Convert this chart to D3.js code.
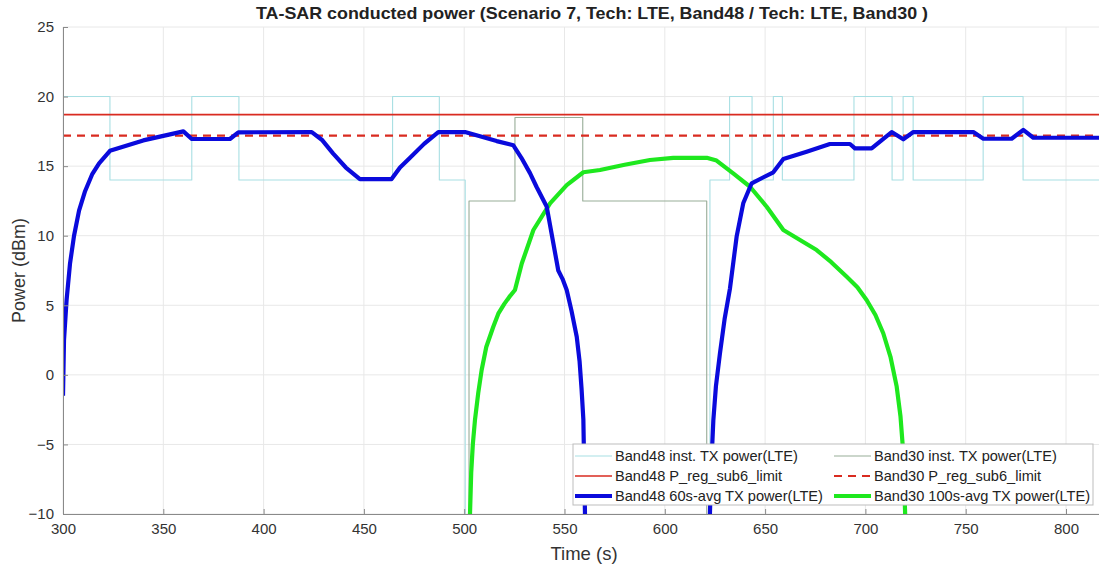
<!DOCTYPE html>
<html><head><meta charset="utf-8">
<script src="https://cdn.jsdelivr.net/npm/d3@7"></script>
<style>body{margin:0;background:#fff;font-family:"Liberation Sans",Arial,sans-serif;}</style>
</head><body><svg id="c" width="1099" height="567"></svg>
<script>
// ---------- data ----------
const titleText = "TA-SAR conducted power (Scenario 7, Tech: LTE, Band48 / Tech: LTE, Band30 )";
const xTicks = [300,350,400,450,500,550,600,650,700,750,800];
const yTicks = [-10,-5,0,5,10,15,20,25];
const OFF = -40; // transmitter off (-Inf dBm), drawn below the axis

// Band48 instantaneous TX power (step changes)
const b48InstT = [300,323.4,364.2,387.7,464.3,487.6,500.5,622.5,632.3,643.5,654.1,658.6,694.3,713.3,718.8,723.8,758.7,778.6,820];
const b48InstV = [20,14,20,14,20,14,OFF,14,20,14,20,14,20,14,20,14,20,14,14];
// Band30 instantaneous TX power (step changes)
const b30InstT = [300,502.4,525.3,559.1,620.9,820];
const b30InstV = [OFF,12.5,18.5,12.5,OFF,OFF];
// limits
const b48Limit = 18.7;
const b30Limit = 17.2;
// Band48 60s-avg TX power
const b48AvgT = [300,300.5,301.8,303.5,305.5,308,311,314.5,318,323.4,340,360,364.2,383.2,387.4,424,429,434.7,441,448,463.8,468,473,480,487.1,500.4,516.2,524.5,528.5,532.8,536.1,541.1,546.9,549,551.1,553.5,556.1,557.5,558.5,559.4,560.2,560.5,
  622.3,622.5,623.2,624.2,625.5,627.5,629.8,632.5,635.8,639.1,643.3,654.1,659.1,670.7,682.3,692.3,694.8,703.1,713.1,718.9,723.9,753.8,758.8,772.9,778.7,783.7,820];
const b48AvgV = [-1.5,2.5,5.4,8,10,11.8,13.2,14.4,15.2,16.1,16.85,17.5,16.95,16.95,17.43,17.45,16.9,15.9,14.9,14.07,14.07,14.9,15.6,16.6,17.45,17.45,16.8,16.5,15.6,14.5,13.5,12.1,7.5,6.9,6.1,4.6,2.74,1.0,-1,-3.2,-9.9,OFF,
  OFF,-9.95,-6.5,-3.25,-0.8,1.55,4.0,6.22,9.93,12.33,13.77,14.56,15.51,16.04,16.59,16.59,16.28,16.28,17.45,16.93,17.45,17.45,16.97,16.97,17.6,17.04,17.04];
// Band30 100s-avg TX power
const b30AvgT = [502.5,502.9,503.5,504.3,505.4,507,508.7,511,514.5,517,520,522.5,525.3,528.7,534.5,542.8,551.1,559.4,567.7,580,592.6,604.2,620.9,625.8,634.1,642.5,650.8,659.1,675.7,683,690.7,696,700.6,705,708.9,712.5,715.6,717.5,718.9,719.8,720];
const b30AvgV = [OFF,-9.95,-7,-5,-3.2,-1.3,0.35,2.0,3.46,4.4,5.1,5.6,6.1,8.0,10.41,12.33,13.64,14.56,14.72,15.1,15.44,15.6,15.6,15.4,14.48,13.52,12.08,10.41,8.97,8.1,7.05,6.3,5.38,4.3,2.99,1.3,-0.85,-3.0,-5.64,-9.93,OFF];

const legendLabels = ["Band48 inst. TX power(LTE)","Band30 inst. TX power(LTE)","Band48 P_reg_sub6_limit","Band30 P_reg_sub6_limit","Band48 60s-avg TX power(LTE)","Band30 100s-avg TX power(LTE)"];

// ---------- drawing ----------
const svg = d3.select("#c");
const L = 63, T = 27, B = 514;
const x = d3.scaleLinear().domain([300,820]).range([L, L + 520*2.006]);
const y = d3.scaleLinear().domain([-10,25]).range([B, T]);
const R = x.range()[1];

svg.append("defs").append("clipPath").attr("id","clip")
  .append("rect").attr("x",L).attr("y",T).attr("width",R-L).attr("height",B-T);

// grid
const grid = svg.append("g").attr("stroke","#e8e8e8").attr("stroke-width",1);
xTicks.forEach(t=>grid.append("line").attr("x1",x(t)).attr("x2",x(t)).attr("y1",T).attr("y2",B));
yTicks.forEach(t=>grid.append("line").attr("x1",L).attr("x2",R).attr("y1",y(t)).attr("y2",y(t)));

const zip = (ts,vs)=>ts.map((t,i)=>[t,vs[i]]);
const plot = svg.append("g").attr("clip-path","url(#clip)");
const stepLine = d3.line().x(d=>x(d[0])).y(d=>y(d[1])).curve(d3.curveStepAfter);
const line = d3.line().x(d=>x(d[0])).y(d=>y(d[1]));

const series = [
  {label:legendLabels[0], d:stepLine(zip(b48InstT,b48InstV)), color:"#a8dfe3", w:1.1, dash:null},
  {label:legendLabels[1], d:stepLine(zip(b30InstT,b30InstV)), color:"#98ad98", w:1.1, dash:null},
  {label:legendLabels[2], d:line([[300,b48Limit],[820,b48Limit]]), color:"#d92b20", w:1.6, dash:null},
  {label:legendLabels[3], d:line([[300,b30Limit],[820,b30Limit]]), color:"#d92b20", w:2.2, dash:"8,6"},
  {label:legendLabels[4], d:line(zip(b48AvgT,b48AvgV)), color:"#0a0adc", w:4.2, dash:null},
  {label:legendLabels[5], d:line(zip(b30AvgT,b30AvgV)), color:"#1ee81e", w:4.2, dash:null}
];
// draw order: inst, limits, green avg, blue avg
[0,1,2,3,5,4].forEach(i=>{
  const s = series[i];
  plot.append("path").attr("d",s.d).attr("fill","none").attr("stroke",s.color)
    .attr("stroke-width",s.w).attr("stroke-dasharray",s.dash).attr("stroke-linejoin","round");
});

// axes
const xAxis = d3.axisBottom(x).tickValues(xTicks).tickSizeInner(-5).tickSizeOuter(0).tickPadding(9);
const yAxis = d3.axisLeft(y).tickValues(yTicks).tickSizeInner(-5).tickSizeOuter(0).tickPadding(9);
const gx = svg.append("g").attr("transform",`translate(0,${B})`).call(xAxis);
const gy = svg.append("g").attr("transform",`translate(${L},0)`).call(yAxis);
[gx,gy].forEach(g=>{
  g.select(".domain").attr("stroke","#8a8a8a");
  g.selectAll(".tick line").attr("stroke","#8a8a8a");
  g.selectAll(".tick text").attr("fill","#333").style("font-size","15px").style("font-family","'Liberation Sans',Arial,sans-serif");
});

// labels
svg.append("text").attr("x",592).attr("y",19).attr("text-anchor","middle")
  .attr("textLength",672).attr("lengthAdjust","spacingAndGlyphs")
  .style("font-size","17px").style("font-weight","bold").attr("fill","#222").text(titleText);
svg.append("text").attr("x",584).attr("y",560).attr("text-anchor","middle")
  .style("font-size","18.5px").attr("fill","#333").text("Time (s)");
svg.append("text").attr("transform",`translate(25,${(T+B)/2}) rotate(-90)`).attr("text-anchor","middle")
  .style("font-size","18px").attr("fill","#333").text("Power (dBm)");

// legend
const lg = svg.append("g");
lg.append("rect").attr("x",573).attr("y",444).attr("width",520).attr("height",61)
  .attr("fill","#fff").attr("stroke","#bdbdbd").attr("stroke-width",1);
const colX = [575, 834], rowY = [456, 476, 496];
series.forEach((s,i)=>{
  const cx = colX[i%2], cy = rowY[Math.floor(i/2)];
  lg.append("line").attr("x1",cx).attr("x2",cx+37).attr("y1",cy).attr("y2",cy)
    .attr("stroke",s.color).attr("stroke-width",s.w).attr("stroke-dasharray",s.dash);
  lg.append("text").attr("x",cx+40).attr("y",cy+5).style("font-size","14.6px").attr("fill","#222").text(s.label);
});
</script></body></html>
